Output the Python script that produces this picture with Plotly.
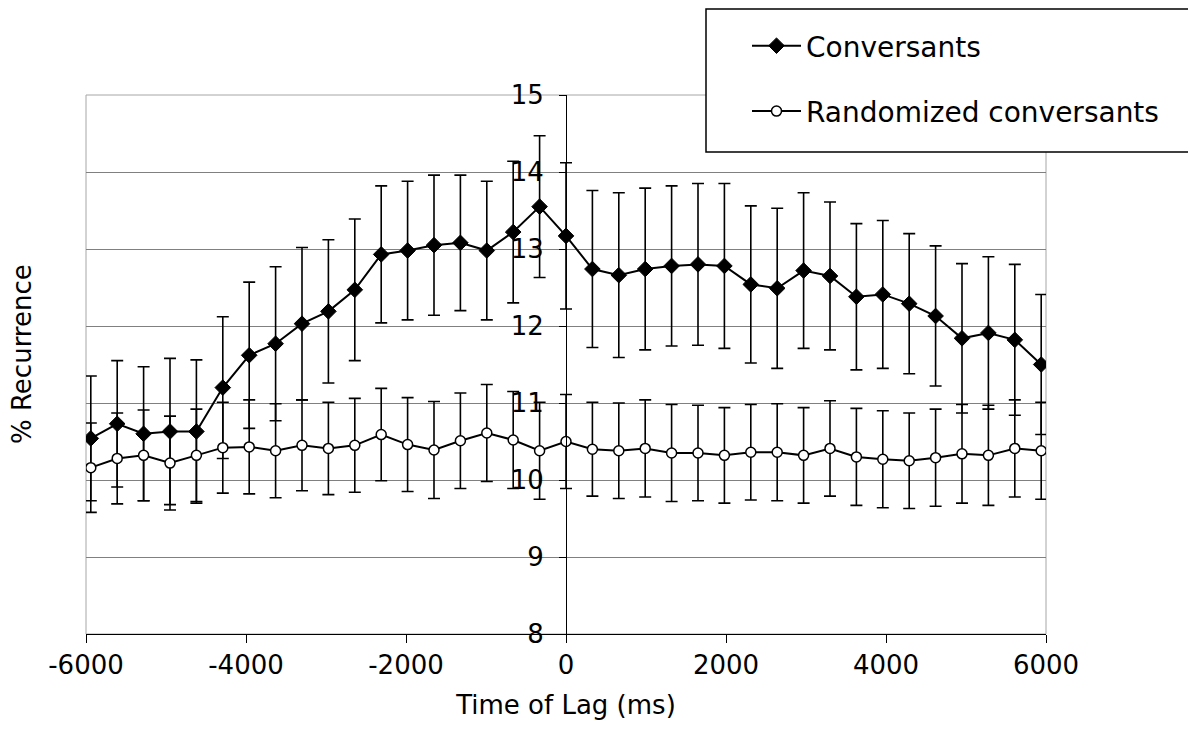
import plotly.graph_objects as go

# ---- data ----
lag_ms = [-5940, -5610, -5280, -4950, -4620, -4290, -3960, -3630, -3300, -2970,
          -2640, -2310, -1980, -1650, -1320, -990, -660, -330, 0, 330,
          660, 990, 1320, 1650, 1980, 2310, 2640, 2970, 3300, 3630,
          3960, 4290, 4620, 4950, 5280, 5610, 5940]

conversants = [10.54, 10.73, 10.60, 10.63, 10.63, 11.20, 11.62, 11.77, 12.03, 12.19,
               12.47, 12.93, 12.98, 13.05, 13.08, 12.98, 13.22, 13.55, 13.17, 12.74,
               12.66, 12.74, 12.78, 12.80, 12.78, 12.54, 12.49, 12.72, 12.65, 12.38,
               12.41, 12.29, 12.13, 11.84, 11.91, 11.82, 11.50]
conversants_err = [0.81, 0.82, 0.87, 0.95, 0.93, 0.92, 0.95, 1.00, 0.99, 0.93,
                   0.92, 0.89, 0.90, 0.91, 0.88, 0.90, 0.92, 0.92, 0.95, 1.02,
                   1.07, 1.05, 1.04, 1.05, 1.07, 1.02, 1.04, 1.01, 0.96, 0.95,
                   0.96, 0.91, 0.91, 0.97, 0.99, 0.98, 0.91]

randomized = [10.16, 10.28, 10.32, 10.22, 10.32, 10.42, 10.43, 10.38, 10.45, 10.41,
              10.45, 10.59, 10.46, 10.39, 10.51, 10.61, 10.52, 10.38, 10.50, 10.40,
              10.38, 10.41, 10.35, 10.35, 10.32, 10.36, 10.36, 10.32, 10.41, 10.30,
              10.27, 10.25, 10.29, 10.34, 10.32, 10.41, 10.38]
randomized_err = [0.58, 0.59, 0.59, 0.61, 0.60, 0.59, 0.61, 0.61, 0.59, 0.60,
                  0.61, 0.60, 0.61, 0.63, 0.62, 0.63, 0.63, 0.63, 0.61, 0.61,
                  0.62, 0.63, 0.63, 0.62, 0.62, 0.62, 0.63, 0.62, 0.62, 0.63,
                  0.63, 0.62, 0.63, 0.64, 0.65, 0.63, 0.63]

x_tick_vals = [-6000, -4000, -2000, 0, 2000, 4000, 6000]
x_tick_text = ["-6000", "-4000", "-2000", "0", "2000", "4000", "6000"]
y_tick_vals = [8, 9, 10, 11, 12, 13, 14, 15]
y_tick_text = ["8", "9", "10", "11", "12", "13", "14", "15"]

series_names = ["Conversants", "Randomized conversants"]
x_title = "Time of Lag (ms)"
y_title = "% Recurrence"

FONT = "DejaVu Sans"

fig = go.Figure()

fig.add_trace(go.Scatter(
    x=lag_ms, y=conversants, name=series_names[0], mode="lines+markers",
    line=dict(color="black", width=2),
    marker=dict(symbol="diamond", size=12, color="black",
                line=dict(color="black", width=1)),
    error_y=dict(type="data", array=conversants_err, visible=True,
                 color="black", thickness=1.6, width=6),
    legendgroup="a",
))
fig.add_trace(go.Scatter(
    x=lag_ms, y=randomized, name=series_names[1], mode="lines+markers",
    line=dict(color="black", width=2),
    marker=dict(symbol="circle", size=10, color="white",
                line=dict(color="black", width=1.5)),
    error_y=dict(type="data", array=randomized_err, visible=True,
                 color="black", thickness=1.6, width=6),
    legendgroup="b",
))

OFF = 8  # page body margin
W, H = 1196 - 2 * OFF, 730 - 2 * OFF
L, T = 78, 87
pw, ph = 960, 539
R, B = W - L - pw, H - T - ph

def px_x(screen):
    return (screen - OFF - L) / pw

def px_y(screen):
    return 1 - (screen - OFF - T) / ph

# plot border (grey)
fig.add_shape(type="rect", xref="paper", yref="paper", x0=0, x1=1, y0=0, y1=1,
              line=dict(color="#a6a6a6", width=1), layer="below")
# legend box: white fill, and an open outline that continues past the right edge
bx0, bx1, by0, by1 = px_x(706), px_x(1230), px_y(152), px_y(9)
fig.add_shape(type="rect", xref="paper", yref="paper",
              x0=bx0, x1=bx1, y0=by0, y1=by1,
              line=dict(width=0), fillcolor="white", layer="above")
fig.add_shape(type="path", xref="paper", yref="paper",
              path=f"M {bx1},{by1} L {bx0},{by1} L {bx0},{by0} L {bx1},{by0}",
              line=dict(color="black", width=1.5), layer="above")

fig.add_annotation(text=y_title, xref="paper", yref="paper",
                   x=px_x(22), y=px_y(354), textangle=-90, showarrow=False,
                   xanchor="center", yanchor="middle",
                   font=dict(family=FONT, size=26, color="black"))

fig.update_layout(
    width=W, height=H,
    margin=dict(l=L, r=R, t=T, b=B, pad=0, autoexpand=False),
    paper_bgcolor="white", plot_bgcolor="white",
    font=dict(family=FONT, size=26, color="black"),
    showlegend=True,
    legend=dict(x=px_x(747), y=px_y(21), xanchor="left", yanchor="top",
                bgcolor="rgba(0,0,0,0)", borderwidth=0,
                font=dict(family=FONT, size=28, color="black"),
                itemwidth=49, tracegroupgap=26, traceorder="grouped"),
    xaxis=dict(range=[-6000, 6000], tickvals=x_tick_vals, ticktext=x_tick_text,
               automargin=False,
               showgrid=False, zeroline=False, showline=True,
               linecolor="black", linewidth=1, ticks="outside", ticklen=8,
               tickcolor="black", tickwidth=1,
               tickfont=dict(family=FONT, size=26, color="black"),
               title=dict(text=x_title, font=dict(family=FONT, size=26, color="black"),
                          standoff=16)),
    yaxis=dict(range=[8, 15], tickvals=y_tick_vals, ticktext=y_tick_text,
               anchor="free", position=0.5, automargin=False,
               showgrid=True, gridcolor="#808080", gridwidth=1,
               zeroline=False, showline=True, linecolor="black", linewidth=1,
               ticks="outside", ticklen=7, tickcolor="black", tickwidth=1,
               ticklabelstandoff=10,
               tickfont=dict(family=FONT, size=26, color="black")),
)

fig.write_html("out.html")
